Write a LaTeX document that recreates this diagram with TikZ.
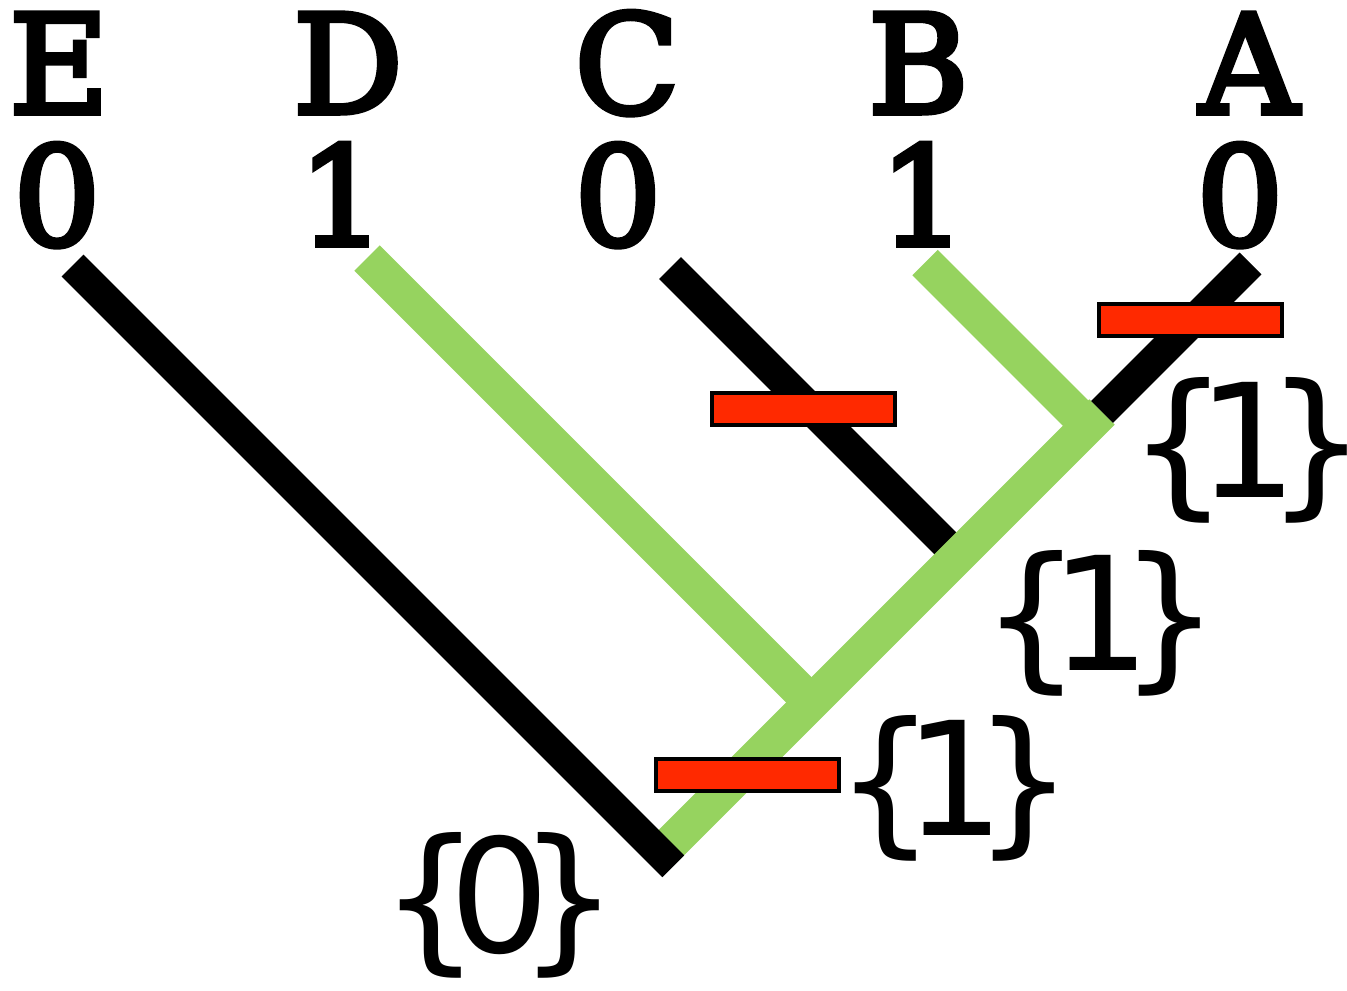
\documentclass[tikz,border=0pt]{standalone}
\usepackage{fontspec}
\newfontfamily\tipfont[FakeBold=4]{DejaVu Serif}
\newfontfamily\labfont{DejaVu Sans}
\definecolor{treegreen}{RGB}{150,211,95}
\definecolor{barred}{RGB}{255,41,0}
\tikzset{
  blackbranch/.style={line width=15.5pt, draw=black, line cap=butt},
  greenbranch/.style={line width=18pt, draw=treegreen, line cap=butt},
  changebar/.style={rectangle, draw=black, line width=2pt, fill=barred,
    minimum width=91.5pt, minimum height=16pt, inner sep=0pt},
  taxon/.style={font=\tipfont\fontsize{68.5}{68.5}\selectfont, anchor=base, inner sep=0pt},
  setlabel/.style={font=\labfont\fontsize{79}{79}\selectfont, anchor=base, inner sep=0pt}
}
\newcommand{\brset}[1]{\kern-0.12em\{\kern-0.2em #1\kern-0.2em\}\kern-0.12em}
\begin{document}
\begin{tikzpicture}[x=0.5pt,y=-0.5pt]
\useasboundingbox (0,0) rectangle (1347,990);
% tips and junctions
\coordinate (Etop) at (72.5,265.5);
\coordinate (Eroot) at (673.25,866.25);
\coordinate (root) at (660.5,853.5);
\coordinate (S) at (1102,412);
\coordinate (Atop) at (1250.5,263.5);
\coordinate (Btop) at (925,262.5);
\coordinate (JB) at (1088.25,425.75);
\coordinate (Dtop) at (367,258);
\coordinate (JD) at (811.5,702.5);
\coordinate (Ctop) at (670,268);
\coordinate (JC) at (958,556);
% branches
\draw[blackbranch] (Ctop) -- (JC);
\draw[greenbranch] (root) -- (S);
\draw[greenbranch] (Btop) -- (JB);
\draw[greenbranch] (Dtop) -- (JD);
\draw[blackbranch] (Etop) -- (Eroot);
\draw[blackbranch] (S) -- (Atop);
% change bars
\node[changebar] (barA) at (1190.5,320) {};
\node[changebar] (barC) at (803.5,408.5) {};
\node[changebar] (barR) at (747,774.5) {};
% taxa
\node[taxon] (tE) at (59,113) {E};
\node[taxon] (tD) at (348,113) {D};
\node[taxon] (tC) at (627,113) {C};
\node[taxon] (tB) at (918.5,113) {B};
\node[taxon] (tA) at (1249,113) {A};
% states
\node[taxon] (sE) at (57,245) {0};
\node[taxon] (sD) at (342,245) {1};
\node[taxon] (sC) at (618,245) {0};
\node[taxon] (sB) at (923,245) {1};
\node[taxon] (sA) at (1240,245) {0};
% reconstructed sets
\node[setlabel] (l1) at (1248,497) {\brset{1}};
\node[setlabel] (l2) at (1101,670) {\brset{1}};
\node[setlabel] (l3) at (955,835) {\brset{1}};
\node[setlabel] (l0) at (500,952) {\brset{0}};
\end{tikzpicture}
\end{document}
